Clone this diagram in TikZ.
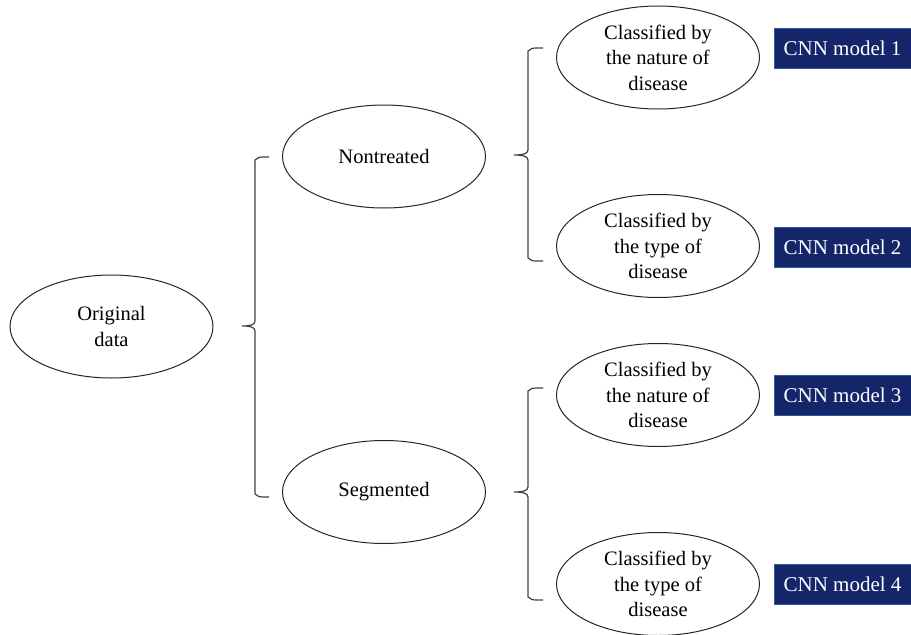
\documentclass[tikz,border=0pt]{standalone}
\usepackage{fontspec}
\setmainfont{Liberation Serif}
\usetikzlibrary{shapes.geometric}
\definecolor{navy}{HTML}{142669}
\definecolor{navyedge}{HTML}{2A5C9E}
\begin{document}
\begin{tikzpicture}[x=1pt,y=-1pt,
  ell/.style={ellipse,draw=black!85,line width=1pt,minimum width=203pt,minimum height=103pt,align=center,font=\fontsize{20.5}{25.5}\selectfont,inner sep=0pt},
  cnn/.style={rectangle,fill=navy,draw=navyedge,line width=1pt,text=white,minimum width=137pt,minimum height=40pt,font=\fontsize{21}{22}\selectfont,inner sep=0pt},
  brk/.style={draw=black!75,line width=1.2pt}]
\useasboundingbox (0,0) rectangle (911,635);
\node[ell] (orig) at (111.5,326.5) {Original\\data};
\node[ell] (nt) at (384,156.5) {Nontreated};
\node[ell] (seg) at (384,492) {Segmented};
\node[ell] (c1) at (658,57.5) {Classified by\\the nature of\\disease};
\node[ell] (c2) at (658,246) {Classified by\\the type of\\disease};
\node[ell] (c3) at (658,395) {Classified by\\the nature of\\disease};
\node[ell] (c4) at (658,584) {Classified by\\the type of\\disease};
\node[cnn] (m1) at (842.5,48) {CNN model 1};
\node[cnn] (m2) at (842.5,247) {CNN model 2};
\node[cnn] (m3) at (842.5,395) {CNN model 3};
\node[cnn] (m4) at (842.5,584) {CNN model 4};
% brackets
\coordinate (b1t) at (269,157);
\coordinate (b1b) at (269,497);
\coordinate (b1m) at (242,326);
\draw[brk] (b1t) .. controls (258,157) .. (255,160) -- (255,321) .. controls (255,325) and (250,326) .. (b1m)
  (b1m) .. controls (250,326) and (255,327) .. (255,331) -- (255,494) .. controls (258,497) .. (b1b);
\coordinate (b2t) at (543,48);
\coordinate (b2b) at (543,261);
\coordinate (b2m) at (514,155);
\draw[brk] (b2t) .. controls (531,48) .. (528,51) -- (528,150) .. controls (528,154) and (522,155) .. (b2m)
  (b2m) .. controls (522,155) and (528,156) .. (528,160) -- (528,258) .. controls (531,261) .. (b2b);
\coordinate (b3t) at (543,388);
\coordinate (b3b) at (543,600);
\coordinate (b3m) at (514,492);
\draw[brk] (b3t) .. controls (531,388) .. (528,391) -- (528,487) .. controls (528,491) and (522,492) .. (b3m)
  (b3m) .. controls (522,492) and (528,493) .. (528,497) -- (528,597) .. controls (531,600) .. (b3b);
\end{tikzpicture}
\end{document}
